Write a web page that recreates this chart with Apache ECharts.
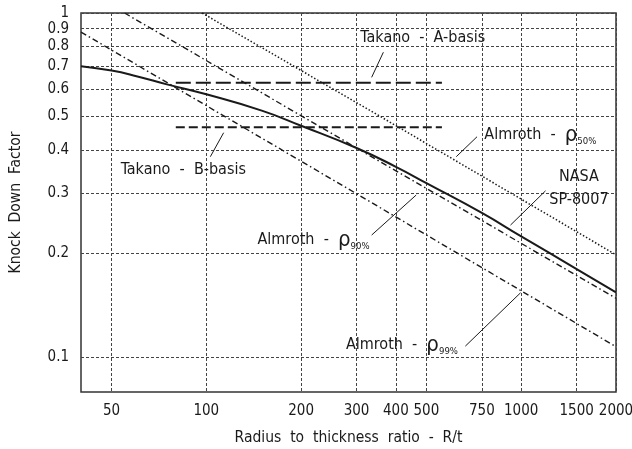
<!DOCTYPE html>
<html><head><meta charset="utf-8">
<script src="https://cdn.jsdelivr.net/npm/echarts@6/dist/echarts.min.js"></script>
<style>html,body{margin:0;padding:0;background:#fff}#c{width:632px;height:449px}</style>
</head><body><div id="c"></div>
<script>
// ---- data ----
const xTicks = [50, 100, 200, 300, 400, 500, 750, 1000, 1500, 2000];
const yTicks = [0.1, 0.2, 0.3, 0.4, 0.5, 0.6, 0.7, 0.8, 0.9, 1];
const nasaRt  = [40, 50, 60, 75, 100, 150, 200, 300, 400, 500, 750, 1000, 1500, 2000];
const nasaKdf = [0.70, 0.68, 0.655, 0.62, 0.58, 0.52, 0.47, 0.405, 0.357, 0.32, 0.262, 0.224, 0.18, 0.154];
const almroth50Rt  = [97, 357, 2000];
const almroth50Kdf = [1.0, 0.50, 0.198];
const almroth90Rt  = [55, 300, 2000];
const almroth90Kdf = [1.0, 0.405, 0.148];
const almroth99Rt  = [40, 300, 2000];
const almroth99Kdf = [0.88, 0.298, 0.107];
const takanoRt = [80, 560];
const takanoA  = [0.627, 0.627];
const takanoB  = [0.465, 0.465];

// ---- annotation layout (data coordinates) ----
const labelTexts = ['Takano  -  A-basis', 'Takano  -  B-basis', 'Almroth  -  ', 'NASA\nSP-8007', 'Almroth  -  ', 'Almroth  -  '];
const labelSubs  = [null, null, '50%', null, '90%', '99%'];
const labelPos   = [[487, 0.844], [84.5, 0.349], [1150, 0.4416], [1525, 0.310], [219, 0.2186], [418, 0.1081]];
const leaders = [
  [[335, 0.650], [365, 0.769]],
  [[113.5, 0.4485], [103, 0.382]],
  [[622, 0.382], [724, 0.4366]],
  [[924.6, 0.2416], [1195, 0.304]],
  [[335, 0.226], [464, 0.2955]],
  [[664.6, 0.1074], [995, 0.1535]]
];

const FONT = "'DejaVu Sans Condensed','Liberation Sans Narrow',Roboto,sans-serif";
const INK = '#1a1a1a';
const zip = (a, b) => a.map((v, i) => [v, b[i]]);

const chart = echarts.init(document.getElementById('c'), null, {renderer: 'canvas'});

function lineSeries(name, xs, ys, style, smooth) {
  return {
    name, type: 'line', data: zip(xs, ys), symbol: 'none', smooth: !!smooth,
    lineStyle: Object.assign({color: INK}, style), silent: true, z: 3
  };
}

const annData = labelTexts.map((t, i) => {
  let fmt;
  if (labelSubs[i]) fmt = '{t|' + t + '}{r|ρ}{s|' + labelSubs[i] + '}';
  else fmt = t.split('\n').map(s => '{t|' + s + '}').join('\n');
  return {value: labelPos[i], label: {formatter: fmt}};
});

const noBorder = {textBorderWidth: 0, textBorderColor: 'transparent', textShadowBlur: 0};

const option = {
  animation: false,
  backgroundColor: '#fff',
  grid: {left: 81, right: 16, top: 13, bottom: 57, show: true, borderColor: '#333', borderWidth: 1.5,
         containLabel: false, outerBoundsMode: 'none'},
  xAxis: {
    type: 'log', logBase: 10, min: 40, max: 2000,
    name: 'Radius  to  thickness  ratio  -  R/t', nameLocation: 'middle', nameGap: 38,
    nameTextStyle: {fontFamily: FONT, fontSize: 15.5, color: INK},
    axisLine: {show: false},
    axisTick: {show: false, customValues: xTicks},
    axisLabel: {customValues: xTicks, fontFamily: FONT, fontSize: 15, color: INK, margin: 12,
      showMinLabel: true, showMaxLabel: true,
      formatter: v => String(Math.round(v))},
    splitLine: {show: true, lineStyle: {color: '#444', width: 1, type: [3, 2]}},
    minorTick: {show: false}, minorSplitLine: {show: false}
  },
  yAxis: {
    type: 'log', logBase: 10, min: 0.079, max: 1,
    name: 'Knock  Down  Factor', nameLocation: 'middle', nameGap: 57, nameRotate: 90,
    nameTextStyle: {fontFamily: FONT, fontSize: 15.5, color: INK},
    axisLine: {show: false},
    axisTick: {show: false, customValues: yTicks},
    axisLabel: {customValues: yTicks, fontFamily: FONT, fontSize: 15, color: INK, margin: 12,
      showMinLabel: true, showMaxLabel: true,
      formatter: v => String(+(+v).toFixed(2))},
    splitLine: {show: true, lineStyle: {color: '#444', width: 1, type: [3, 2]}},
    minorTick: {show: false}, minorSplitLine: {show: false}
  },
  series: [
    lineSeries('Takano A-basis', takanoRt, takanoA, {width: 2, type: [15, 5]}),
    lineSeries('Takano B-basis', takanoRt, takanoB, {width: 2, type: [9, 4]}),
    lineSeries('Almroth 50%', almroth50Rt, almroth50Kdf, {width: 1.5, type: [1.5, 2]}),
    lineSeries('Almroth 90%', almroth90Rt, almroth90Kdf, {width: 1.4, type: [6, 3, 1.5, 3]}),
    lineSeries('Almroth 99%', almroth99Rt, almroth99Kdf, {width: 1.4, type: [6, 3, 1.5, 3]}),
    lineSeries('NASA SP-8007', nasaRt, nasaKdf, {width: 2}, 0.3),
    {
      type: 'lines', coordinateSystem: 'cartesian2d', polyline: false, silent: true, z: 4,
      lineStyle: {color: INK, width: 1, opacity: 1},
      data: leaders.map(c => ({coords: c}))
    },
    {
      type: 'scatter', symbolSize: 0, silent: true, z: 5,
      itemStyle: {color: INK},
      data: annData,
      label: Object.assign({
        show: true, position: 'inside', color: INK, opacity: 1,
        rich: {
          t: Object.assign({fontFamily: FONT, fontSize: 16, color: INK, lineHeight: 23}, noBorder),
          r: Object.assign({fontFamily: FONT, fontSize: 22, color: INK, lineHeight: 23}, noBorder),
          s: Object.assign({fontFamily: FONT, fontSize: 9.5, color: INK, verticalAlign: 'bottom', lineHeight: 14, padding: [8, 0, 0, 0]}, noBorder)
        }
      }, noBorder)
    }
  ]
};
chart.setOption(option);
</script>
</body></html>
